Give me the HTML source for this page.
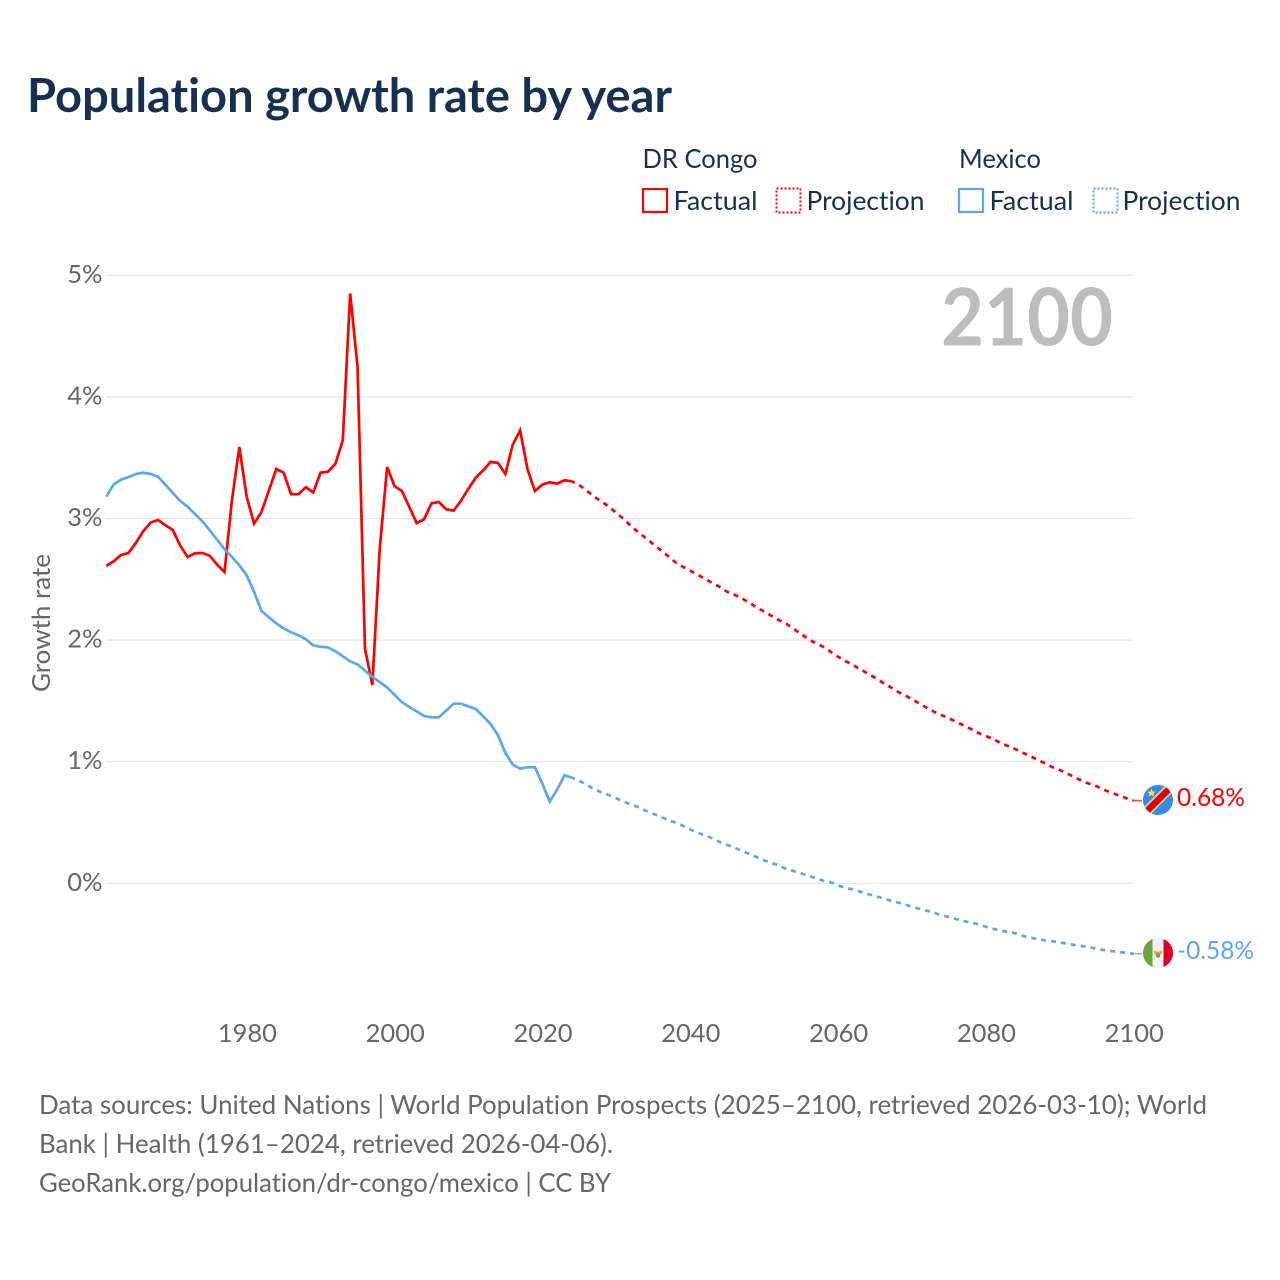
<!DOCTYPE html>
<html lang="en">
<head>
<meta charset="utf-8">
<title>Population growth rate by year</title>
<style>
html,body{margin:0;padding:0;background:#fff;width:1280px;height:1280px;overflow:hidden}
svg{display:block}
text{font-family:"Lato","Carlito","Liberation Sans",sans-serif;font-variant-ligatures:none}
</style>
</head>
<body>
<svg id="chart" xmlns="http://www.w3.org/2000/svg" width="1280" height="1280" viewBox="0 0 1280 1280">
  <rect width="1280" height="1280" fill="#fff"/>
  <text x="27" y="112" font-size="47" font-weight="700" fill="#17304f" textLength="645" lengthAdjust="spacingAndGlyphs">Population growth rate by year</text>

  <g font-size="26.5" fill="#17304f">
    <text x="642.5" y="168" textLength="115" lengthAdjust="spacingAndGlyphs">DR Congo</text>
    <text x="959" y="168" textLength="82" lengthAdjust="spacingAndGlyphs">Mexico</text>
    <rect x="643" y="189" width="24" height="23" fill="none" stroke="#ff0000" stroke-width="2.2"/>
    <text x="673.5" y="210" textLength="84" lengthAdjust="spacingAndGlyphs">Factual</text>
    <rect x="776.5" y="188.5" width="24" height="24" fill="none" stroke="#ff0000" stroke-width="2" stroke-dasharray="2 2"/>
    <text x="806.5" y="210" textLength="118" lengthAdjust="spacingAndGlyphs">Projection</text>
    <rect x="959" y="189" width="24" height="23" fill="none" stroke="#5ba5f2" stroke-width="2.2"/>
    <text x="989.5" y="210" textLength="84" lengthAdjust="spacingAndGlyphs">Factual</text>
    <rect x="1093.5" y="188.5" width="24" height="24" fill="none" stroke="#5ba5f2" stroke-width="2" stroke-dasharray="2 2"/>
    <text x="1122.5" y="210" textLength="118" lengthAdjust="spacingAndGlyphs">Projection</text>
  </g>

  <g id="grid"></g>
  <g id="yticks"></g>
  <g id="xticks"></g>

  <text transform="translate(50,692) rotate(-90)" font-size="25.5" fill="#666" textLength="138" lengthAdjust="spacingAndGlyphs">Growth rate</text>
  <text x="941" y="345.5" font-size="80" font-weight="700" fill="#bdbdbd" textLength="172" lengthAdjust="spacingAndGlyphs">2100</text>

  <g id="series"></g>

  <g>
    <defs>
      <clipPath id="clip-cd"><circle cx="1158" cy="800" r="15"/></clipPath>
      <clipPath id="clip-mx"><circle cx="1158" cy="953" r="15"/></clipPath>
    </defs>
    <g clip-path="url(#clip-cd)">
      <rect x="1143" y="785" width="30" height="30" fill="#338af3"/>
      <line x1="1140" y1="818" x2="1176" y2="782" stroke="#ffda44" stroke-width="10"/>
      <line x1="1140" y1="818" x2="1176" y2="782" stroke="#d80027" stroke-width="6.5"/>
      <polygon points="1151.5,788.5 1152.7,791.5 1155.8,791.7 1153.4,793.6 1154.2,796.6 1151.5,795 1148.8,796.6 1149.6,793.6 1147.2,791.7 1150.3,791.5" fill="#ffda44"/>
    </g>
  </g>
  <g>
    <g clip-path="url(#clip-mx)">
      <rect x="1143" y="938" width="30" height="30" fill="#f0f0f0"/>
      <rect x="1143" y="938" width="9.5" height="30" fill="#6da544"/>
      <rect x="1163.5" y="938" width="9.5" height="30" fill="#d80027"/>
      <path d="M1153.5 950.5 q4.5 2.5 9 0 l-1.5 4 h-6 z" fill="#ff9811"/>
      <circle cx="1158" cy="955.5" r="2.2" fill="#6da544"/>
    </g>
  </g>

  <text x="1177" y="806" font-size="25.5" fill="#ff0000" textLength="68" lengthAdjust="spacingAndGlyphs">0.68%</text>
  <text x="1177" y="959" font-size="25.5" fill="#5ba5f2" textLength="77" lengthAdjust="spacingAndGlyphs">-0.58%</text>

  <g font-size="26.5" fill="#666">
    <text x="39" y="1114" textLength="1168" lengthAdjust="spacingAndGlyphs">Data sources: United Nations | World Population Prospects (2025–2100, retrieved 2026-03-10); World</text>
    <text x="39" y="1153" textLength="574" lengthAdjust="spacingAndGlyphs">Bank | Health (1961–2024, retrieved 2026-04-06).</text>
    <text x="39" y="1192" textLength="572" lengthAdjust="spacingAndGlyphs">GeoRank.org/population/dr-congo/mexico | CC BY</text>
  </g>
</svg>
<script>
const yTickValues = [0, 1, 2, 3, 4, 5];
const yTickLabels = ['0%', '1%', '2%', '3%', '4%', '5%'];
const xTickYears = [1980, 2000, 2020, 2040, 2060, 2080, 2100];
const factualStartYear = 1961;
const projectionStartYear = 2024;
const congoFactual = [2.61,2.648,2.70,2.716,2.80,2.895,2.967,2.988,2.944,2.906,2.777,2.684,2.714,2.716,2.694,2.62,2.56,3.15,3.588,3.177,2.958,3.054,3.23,3.407,3.377,3.20,3.20,3.257,3.215,3.377,3.385,3.45,3.643,4.85,4.246,1.93,1.63,2.75,3.424,3.265,3.226,3.095,2.963,2.993,3.125,3.136,3.075,3.065,3.147,3.245,3.336,3.396,3.465,3.457,3.366,3.607,3.725,3.405,3.226,3.278,3.298,3.287,3.314,3.306];
const mexicoFactual = [3.18,3.28,3.32,3.34,3.366,3.377,3.366,3.344,3.278,3.21,3.144,3.097,3.037,2.977,2.903,2.826,2.747,2.684,2.615,2.533,2.396,2.24,2.187,2.138,2.097,2.064,2.04,2.007,1.957,1.945,1.94,1.908,1.867,1.826,1.80,1.75,1.697,1.655,1.61,1.55,1.49,1.45,1.414,1.376,1.365,1.365,1.42,1.477,1.477,1.455,1.433,1.373,1.31,1.217,1.072,0.976,0.943,0.954,0.954,0.82,0.672,0.77,0.888,0.869];
const congoProjection = [3.306,3.275,3.229,3.18,3.141,3.097,3.048,2.996,2.938,2.886,2.84,2.79,2.741,2.691,2.64,2.604,2.571,2.538,2.505,2.47,2.437,2.398,2.373,2.344,2.308,2.27,2.234,2.20,2.165,2.135,2.094,2.05,2.009,1.974,1.946,1.905,1.864,1.828,1.798,1.76,1.727,1.691,1.653,1.617,1.579,1.549,1.513,1.48,1.444,1.411,1.384,1.357,1.329,1.299,1.269,1.236,1.211,1.187,1.154,1.129,1.104,1.074,1.047,1.016,0.987,0.956,0.932,0.905,0.872,0.844,0.819,0.798,0.77,0.745,0.724,0.701,0.68];
const mexicoProjection = [0.869,0.844,0.808,0.775,0.748,0.726,0.699,0.671,0.65,0.625,0.597,0.572,0.548,0.52,0.50,0.474,0.444,0.416,0.395,0.37,0.34,0.317,0.293,0.268,0.241,0.216,0.189,0.167,0.148,0.118,0.101,0.082,0.06,0.044,0.021,0.008,-0.016,-0.039,-0.049,-0.069,-0.088,-0.104,-0.121,-0.14,-0.156,-0.173,-0.192,-0.209,-0.225,-0.242,-0.263,-0.277,-0.294,-0.31,-0.324,-0.337,-0.357,-0.373,-0.39,-0.398,-0.411,-0.433,-0.447,-0.458,-0.469,-0.477,-0.485,-0.497,-0.507,-0.516,-0.526,-0.538,-0.549,-0.557,-0.565,-0.571,-0.58];

const NS = 'http://www.w3.org/2000/svg';
const RED = '#ff0000';
const BLUE = '#5ba5f2';
const LINE_WIDTH = 2.7;
function xScale(year) { return 106.3 + (year - 1961) * (1133.5 - 106.3) / (2100 - 1961); }
function yScale(value) { return 883.3 - value * 121.6; }
function make(tag, attrs) {
  const el = document.createElementNS(NS, tag);
  for (const k in attrs) el.setAttribute(k, attrs[k]);
  return el;
}
function pathFor(values, startYear) {
  return values.map(function (v, i) {
    return (i ? 'L' : 'M') + xScale(startYear + i).toFixed(2) + ' ' + yScale(v).toFixed(2);
  }).join(' ');
}

const grid = document.getElementById('grid');
const yticks = document.getElementById('yticks');
yTickValues.forEach(function (v, i) {
  const line = make('line', { x1: 106, x2: 1133, y1: yScale(v), y2: yScale(v), stroke: '#e6e6e6', 'stroke-width': 1.2 });
  
  
  grid.appendChild(line);
  const t = make('text', { x: 102.5, y: yScale(v) + 7.5, 'text-anchor': 'end', 'font-size': 25.5, fill: '#666' });
  
  
  t.textContent = yTickLabels[i];
  yticks.appendChild(t);
});

const xticks = document.getElementById('xticks');
xTickYears.forEach(function (year) {
  const t = make('text', { x: xScale(year) + 0.7, y: 1042, 'text-anchor': 'middle', 'font-size': 25.5, fill: '#666' });
  
  
  t.textContent = year;
  xticks.appendChild(t);
});

const series = document.getElementById('series');
const congoFactualLine = make('path', { d: pathFor(congoFactual, factualStartYear), fill: 'none', stroke: RED, 'stroke-width': LINE_WIDTH, 'stroke-linejoin': 'miter' });


series.appendChild(congoFactualLine);

const congoProjectionLine = make('path', { d: pathFor(congoProjection, projectionStartYear), fill: 'none', stroke: RED, 'stroke-width': LINE_WIDTH, 'stroke-dasharray': '5 5', 'stroke-dashoffset': 1.7 });


series.appendChild(congoProjectionLine);

const mexicoFactualLine = make('path', { d: pathFor(mexicoFactual, factualStartYear), fill: 'none', stroke: BLUE, 'stroke-width': LINE_WIDTH, 'stroke-linejoin': 'miter' });


series.appendChild(mexicoFactualLine);

const mexicoProjectionLine = make('path', { d: pathFor(mexicoProjection, projectionStartYear), fill: 'none', stroke: BLUE, 'stroke-width': LINE_WIDTH, 'stroke-dasharray': '5 5', 'stroke-dashoffset': 1.7 });


series.appendChild(mexicoProjectionLine);

const congoConnector = make('line', { x1: xScale(2100), x2: 1142, y1: yScale(congoProjection[congoProjection.length - 1]), y2: yScale(congoProjection[congoProjection.length - 1]), stroke: RED, 'stroke-width': 1.5, opacity: 0.75 });


series.appendChild(congoConnector);

const mexicoConnector = make('line', { x1: xScale(2100), x2: 1142, y1: yScale(mexicoProjection[mexicoProjection.length - 1]), y2: yScale(mexicoProjection[mexicoProjection.length - 1]), stroke: BLUE, 'stroke-width': 1.5, opacity: 0.75 });


series.appendChild(mexicoConnector);
</script>
</body>
</html>
